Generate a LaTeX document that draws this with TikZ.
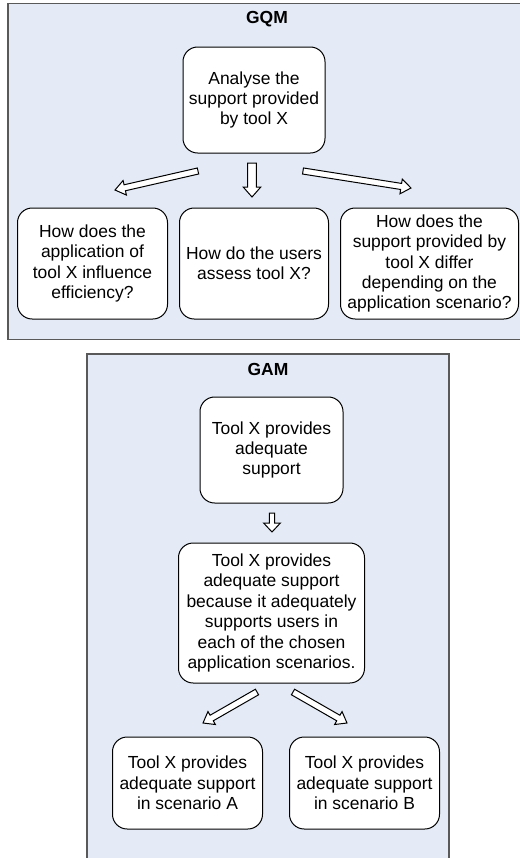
\documentclass[tikz,border=0pt]{standalone}
\usepackage{fontspec}
\setmainfont{Liberation Sans}
\usetikzlibrary{positioning, calc}
\definecolor{panelblue}{RGB}{228,235,246}

% hollow block arrow: from, to, half shaft width, head length, half head width
\newcommand{\blockarrow}[5]{
    \coordinate (#1-base) at ($(#2)!#4!(#1)$);
    \draw[hollowarrow] ($(#1)!#3!90:(#2)$) -- ($(#1-base)!#3!-90:(#1)$) -- ($(#1-base)!#5!-90:(#1)$) -- (#2)
        -- ($(#1-base)!#5!90:(#1)$) -- ($(#1-base)!#3!90:(#1)$) -- ($(#1)!#3!-90:(#2)$) -- cycle;
}

\begin{document}
\begin{tikzpicture}[x=0.75pt, y=-0.75pt,
    box/.style={rectangle, rounded corners=11pt, draw=black, line width=0.75pt, fill=white, align=center, inner sep=1pt, font=\fontsize{13.1pt}{15.3pt}\selectfont},
    panel/.style={draw=black!65, line width=1pt, fill=panelblue},
    title/.style={font=\fontsize{13.1pt}{15.3pt}\selectfont\bfseries},
    hollowarrow/.style={draw=black, fill=white, line width=0.75pt, line join=miter}]
    \useasboundingbox (0,0) rectangle (520,858);

    % the two panels
    \draw[panel] (8,3.5) rectangle (526,339.5);
    \draw[panel] (87,354) rectangle (449,864);

    % GQM
    \node[title] (gqm) at (267,19) {GQM};
    \node[box, minimum width=106.5pt, minimum height=79.5pt] (goal) at (254,100) {Analyse the\\support provided\\by tool X};
    \node[box, minimum width=111.75pt, minimum height=83.25pt, below=40.5pt of goal] (q2) {How do the users\\assess tool X?};
    \node[box, minimum width=112.5pt, minimum height=83.25pt, left=8.25pt of q2] (q1) {How does the\\application of\\tool X influence\\efficiency?};
    \node[box, minimum width=133.5pt, minimum height=83.25pt, right=8.25pt of q2] (q3) {How does the\\support provided by\\tool X differ\\depending on the\\application scenario?};

    \coordinate (q1from) at (198,171);
    \coordinate (q1to) at (115,190);
    \coordinate (q2from) at (252,163);
    \coordinate (q2to) at (252,197);
    \coordinate (q3from) at (303,171);
    \coordinate (q3to) at (411,188);
    \blockarrow{q1from}{q1to}{2.3pt}{7.5pt}{5.6pt}
    \blockarrow{q2from}{q2to}{3.2pt}{7.5pt}{6.6pt}
    \blockarrow{q3from}{q3to}{2.3pt}{7.5pt}{5.6pt}

    % GAM
    \node[title] (gam) at (268,369) {GAM};
    \node[box, minimum width=107.25pt, minimum height=79.5pt] (claim) at (271.5,450) {Tool X provides\\adequate\\support};
    \node[box, minimum width=139.5pt, minimum height=105pt, below=29.25pt of claim] (reason) {Tool X provides\\adequate support\\because it adequately\\supports users in\\each of the chosen\\application scenarios.};
    \node[box, minimum width=112.5pt, minimum height=69pt, below=39.75pt of reason, xshift=-63pt] (scenA) {Tool X provides\\adequate support\\in scenario A};
    \node[box, minimum width=112.5pt, minimum height=69pt, right=19.5pt of scenA] (scenB) {Tool X provides\\adequate support\\in scenario B};

    \coordinate (reasonfrom) at (272,513);
    \coordinate (reasonto) at (272,532);
    \coordinate (scenAfrom) at (257,692);
    \coordinate (scenAto) at (203,723);
    \coordinate (scenBfrom) at (293,692);
    \coordinate (scenBto) at (347,723);
    \blockarrow{reasonfrom}{reasonto}{2pt}{6.75pt}{6.3pt}
    \blockarrow{scenAfrom}{scenAto}{2.4pt}{7.5pt}{5.6pt}
    \blockarrow{scenBfrom}{scenBto}{2.4pt}{7.5pt}{5.6pt}

\end{tikzpicture}
\end{document}
